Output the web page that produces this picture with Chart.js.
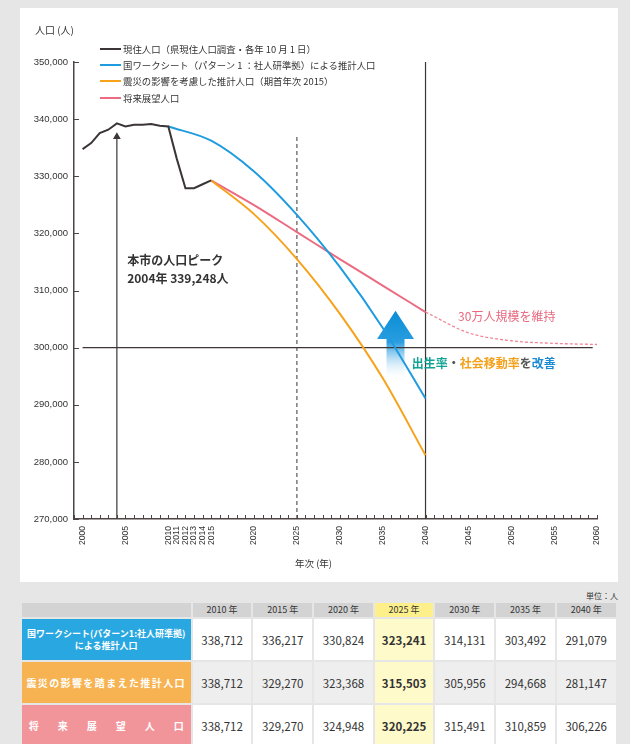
<!DOCTYPE html>
<html lang="ja">
<head>
<meta charset="utf-8">
<script src="https://cdn.jsdelivr.net/npm/chart.js@4.4.1/dist/chart.umd.min.js"></script>
<style>
  body { margin: 0; width: 630px; height: 744px; overflow: hidden; position: relative; background: #e6e6e6; color: #333;
         font-family: 'Noto Sans CJK JP', 'Liberation Sans', sans-serif; }
  #panel { position: absolute; left: 20px; top: 8px; width: 598px; height: 574px; background: #fff; }
  #chartBox { position: absolute; left: 0; top: 0; width: 598px; height: 574px; }
  #yTitle { position: absolute; left: 15px; top: 16px; font-size: 10px; line-height: 12px; }
  #xTitle { position: absolute; left: 275px; top: 549px; font-size: 9.5px; line-height: 12px; }
  #legend { position: absolute; left: 80px; top: 33px; font-size: 9.4px; line-height: 16.2px; }
  #legend .row { display: flex; align-items: center; height: 16.2px; white-space: nowrap; }
  #legend .swatch { width: 21px; height: 2px; margin-right: 2px; }
  #unit { position: absolute; right: 12px; top: 591px; font-size: 8px; line-height: 10px; }
  #tbl { position: absolute; left: 19.7px; top: 601.3px; border-collapse: separate; border-spacing: 2px; table-layout: fixed; }
  #tbl th, #tbl td { padding: 0; text-align: center; }
  #tbl thead th { height: 14px; background: #d3d3d3; font-size: 9px; font-weight: normal; line-height: 14px; }
  #tbl thead th.hl { background: #fdf08b; }
  #tbl td { height: 41px; font-size: 11.5px; background: #fff; }
  #tbl tr.alt td { background: #eeeeee; }
  #tbl td.hl, #tbl tr.alt td.hl { background: #fffac9; font-weight: bold; }
  #tbl td.lab { color: #fff; font-weight: bold; font-size: 9px; line-height: 12px; }
  #tbl td.spread { font-size: 10px; letter-spacing: 1.4px; }
  #tbl td.wide div { display: flex; justify-content: space-between; padding: 0 7px; font-size: 10px; }
</style>
</head>
<body>
<div id="panel">
  <div id="chartBox"><canvas id="chart"></canvas></div>
  <div id="yTitle">人口 (人)</div>
  <div id="xTitle">年次 (年)</div>
  <div id="legend"></div>
</div>
<div id="unit">単位：人</div>
<table id="tbl"></table>
<script>
// 現住人口
const currentYears = [2000, 2001, 2002, 2003, 2004, 2005, 2006, 2007, 2008, 2009, 2010, 2011, 2012, 2013, 2014, 2015];
const currentValues = [334750, 335800, 337550, 338150, 339248, 338700, 339000, 339000, 339150, 338850, 338712, 333000, 327900, 327900, 328600, 329270];

// 推計（5年ごと）
const nationalYears = [2010, 2015, 2020, 2025, 2030, 2035, 2040];
const nationalValues = [338712, 336217, 330824, 323241, 314131, 303492, 291079];
const branchYears = [2015, 2020, 2025, 2030, 2035, 2040];
const disasterValues = [329270, 323368, 315503, 305956, 294668, 281147];
const visionValues = [329270, 324948, 320225, 315491, 310859, 306226];
const visionLongYears = [2040, 2045, 2050, 2055, 2060];
const visionLongValues = [306226, 302600, 301200, 300750, 300550];

const seriesNames = [
  '現住人口（県現住人口調査・各年 10 月 1 日）',
  '国ワークシート（パターン 1 ：社人研準拠）による推計人口',
  '震災の影響を考慮した推計人口（期首年次 2015）',
  '将来展望人口'
];
const seriesColors = ['#3b3535', '#1f9be0', '#f7a21b', '#ec6b80'];

const xTickLabels = [2000, 2005, 2010, 2011, 2012, 2013, 2014, 2015, 2020, 2025, 2030, 2035, 2040, 2045, 2050, 2055, 2060];
const tableYears = [2010, 2015, 2020, 2025, 2030, 2035, 2040];
const highlightYear = 2025;
const peakYear = 2004;
const targetLevel = 300000;

const pts = (xs, ys) => xs.map((x, i) => ({ x: x, y: ys[i] }));

// 凡例
const legend = document.getElementById('legend');
seriesNames.forEach((name, i) => {
  const row = document.createElement('div');
  row.className = 'row';
  row.innerHTML = `<span class="swatch" style="background:${seriesColors[i]}"></span><span>${name}</span>`;
  legend.appendChild(row);
});

// 目盛りを内側に描く
const inwardTicks = {
  id: 'inwardTicks',
  afterDatasetsDraw(chart) {
    const { ctx, chartArea: a, scales: { x, y } } = chart;
    ctx.save();
    ctx.strokeStyle = '#4d4545';
    ctx.lineWidth = 1;
    ctx.beginPath();
    x.ticks.forEach(t => {
      const px = Math.round(x.getPixelForValue(t.value)) + 0.5;
      ctx.moveTo(px, a.bottom);
      ctx.lineTo(px, a.bottom - 4);
    });
    y.ticks.forEach(t => {
      const py = Math.round(y.getPixelForValue(t.value)) + 0.5;
      ctx.moveTo(a.left, py);
      ctx.lineTo(a.left + 5, py);
    });
    ctx.stroke();
    ctx.restore();
  }
};

// 青い矢印
const upArrow = {
  id: 'upArrow',
  beforeDatasetsDraw(chart) {
    const { ctx, scales: { x, y } } = chart;
    const cx = x.getPixelForValue(2036.5);
    const tip = y.getPixelForValue(306450);
    const base = y.getPixelForValue(301500);
    const end = y.getPixelForValue(294200);
    const g = ctx.createLinearGradient(0, tip, 0, end);
    g.addColorStop(0, '#0a8ed6');
    g.addColorStop(0.45, '#2a9de0');
    g.addColorStop(1, 'rgba(255,255,255,0)');
    ctx.save();
    ctx.fillStyle = g;
    ctx.beginPath();
    ctx.moveTo(cx, tip);
    ctx.lineTo(cx + 18.5, base);
    ctx.lineTo(cx + 9, base);
    ctx.lineTo(cx + 9, end);
    ctx.lineTo(cx - 9, end);
    ctx.lineTo(cx - 9, base);
    ctx.lineTo(cx - 18.5, base);
    ctx.closePath();
    ctx.fill();
    ctx.restore();
  }
};

// 注記
const notes = {
  id: 'notes',
  afterDatasetsDraw(chart) {
    const { ctx, scales: { x, y } } = chart;
    ctx.save();
    ctx.textBaseline = 'middle';
    ctx.textAlign = 'left';
    ctx.font = "bold 12px 'Noto Sans CJK JP'";
    ctx.fillStyle = '#333';
    ctx.fillText('本市の人口ピーク', x.getPixelForValue(2005.2), y.getPixelForValue(315340));
    ctx.fillText('2004年 339,248人', x.getPixelForValue(2005.2), y.getPixelForValue(312190));

    ctx.font = "12px 'Noto Sans CJK JP'";
    ctx.fillStyle = '#e9677d';
    ctx.fillText('30万人規模を維持', x.getPixelForValue(2043.8), y.getPixelForValue(305400));

    ctx.font = "bold 12px 'Noto Sans CJK JP'";
    const parts = [['出生率', '#13a394'], ['・', '#555'], ['社会移動率', '#f5a01a'], ['を', '#555'], ['改善', '#1a8ad4']];
    let px = x.getPixelForValue(2038.4);
    const py = y.getPixelForValue(297290);
    parts.forEach(([t, c]) => {
      ctx.fillStyle = c;
      ctx.fillText(t, px, py);
      px += ctx.measureText(t).width;
    });
    ctx.restore();
  }
};

const guide = (data, extra) => Object.assign({
  label: '', data: data, borderColor: '#3d3636', borderWidth: 1.2, pointRadius: 0, order: 10
}, extra);

new Chart(document.getElementById('chart'), {
  type: 'line',
  data: {
    datasets: [
      { label: seriesNames[0], data: pts(currentYears, currentValues), borderColor: seriesColors[0], borderWidth: 2, tension: 0, order: 1 },
      { label: seriesNames[1], data: pts(nationalYears, nationalValues), borderColor: seriesColors[1], borderWidth: 2, cubicInterpolationMode: 'monotone', order: 2 },
      { label: seriesNames[2], data: pts(branchYears, disasterValues), borderColor: seriesColors[2], borderWidth: 2, cubicInterpolationMode: 'monotone', order: 2 },
      { label: seriesNames[3], data: pts(branchYears, visionValues), borderColor: seriesColors[3], borderWidth: 2, cubicInterpolationMode: 'monotone', order: 2 },
      { label: '', data: pts(visionLongYears, visionLongValues), borderColor: '#ef8797', borderWidth: 1.3, borderDash: [3, 2], cubicInterpolationMode: 'monotone', order: 2 },
      guide([{ x: peakYear, y: 270000 }, { x: peakYear, y: 336900 }], { pointRadius: [0, 4.5], pointStyle: 'triangle', pointBackgroundColor: '#3d3636', pointBorderWidth: 0 }),
      guide([{ x: highlightYear, y: 270000 }, { x: highlightYear, y: 337000 }], { borderWidth: 1, borderDash: [4, 3] }),
      guide([{ x: 2040, y: 270000 }, { x: 2040, y: 350000 }]),
      guide([{ x: 2000, y: targetLevel }, { x: 2059.5, y: targetLevel }])
    ]
  },
  options: {
    responsive: true,
    maintainAspectRatio: false,
    animation: false,
    layout: { padding: { top: 54, right: 21, left: 0, bottom: 0 } },
    elements: { point: { radius: 0 } },
    plugins: { legend: { display: false }, tooltip: { enabled: false } },
    scales: {
      x: {
        type: 'linear', min: 1999, max: 2060,
        afterFit: s => { s.height = 63; },
        grid: { display: false, drawTicks: false },
        border: { color: '#4d4545', width: 1.5 },
        ticks: {
          stepSize: 1, autoSkip: false, maxRotation: 90, minRotation: 90, padding: 7,
          color: '#333', font: { size: 8.6 },
          callback: v => xTickLabels.includes(v) ? String(v) : ''
        }
      },
      y: {
        min: 270000, max: 350000,
        afterFit: s => { s.width = 54; },
        grid: { display: false, drawTicks: false },
        border: { color: '#4d4545', width: 1.5 },
        ticks: {
          stepSize: 10000, padding: 6, color: '#333', font: { size: 9.5 },
          callback: v => v.toLocaleString('en-US')
        }
      }
    }
  },
  plugins: [upArrow, inwardTicks, notes]
});

// 表
const at2010 = currentValues[currentYears.indexOf(2010)];
const tableRows = [
  { cls: '', color: '#29a7e0', label: '<div>国ワークシート(パターン1:社人研準拠)</div><div>による推計人口</div>', labCls: '', values: nationalValues },
  { cls: 'alt', color: '#f7b351', label: '震災の影響を踏まえた推計人口', labCls: 'spread', values: [at2010].concat(disasterValues) },
  { cls: '', color: '#f2959b', label: '<div>' + '将来展望人口'.split('').map(c => `<span>${c}</span>`).join('') + '</div>', labCls: 'wide', values: [at2010].concat(visionValues) }
];
const tbl = document.getElementById('tbl');
let html = '<colgroup><col style="width:169px">' + tableYears.map(() => '<col style="width:58.7px">').join('') + '</colgroup>';
html += '<thead><tr><th></th>' + tableYears.map(y => `<th class="${y === highlightYear ? 'hl' : ''}">${y} 年</th>`).join('') + '</tr></thead><tbody>';
tableRows.forEach(r => {
  html += `<tr class="${r.cls}"><td class="lab ${r.labCls}" style="background:${r.color}">${r.label}</td>`;
  html += r.values.map((v, i) => `<td class="${tableYears[i] === highlightYear ? 'hl' : ''}">${v.toLocaleString('en-US')}</td>`).join('');
  html += '</tr>';
});
html += '</tbody>';
tbl.innerHTML = html;
</script>
</body>
</html>
